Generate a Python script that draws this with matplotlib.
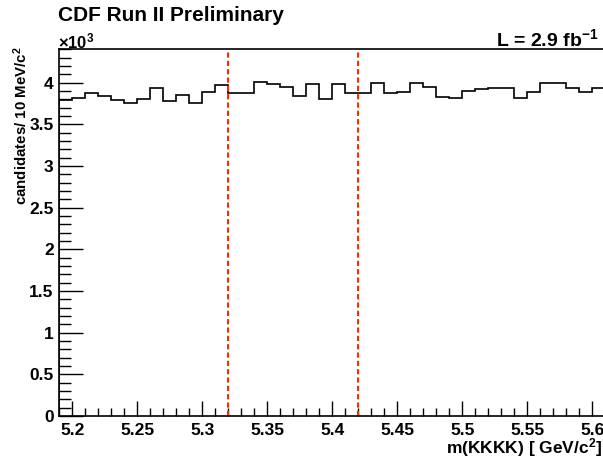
import numpy as np
import matplotlib
matplotlib.use('Agg')
import matplotlib.pyplot as plt
from matplotlib.ticker import MultipleLocator

plt.rcParams['font.family'] = ['Liberation Sans', 'DejaVu Sans']
plt.rcParams['font.weight'] = 'bold'
plt.rcParams['mathtext.fontset'] = 'custom'
plt.rcParams['mathtext.rm'] = 'Liberation Sans:bold'
plt.rcParams['mathtext.bf'] = 'Liberation Sans:bold'
plt.rcParams['mathtext.it'] = 'Liberation Sans:bold'
plt.rcParams['mathtext.default'] = 'bf'

# 10 MeV bins, 5.19 - 5.61 GeV, counts in units of 10^3
bin_lo = 5.19
bin_w = 0.01
counts = [3.79, 3.81, 3.87, 3.84, 3.79, 3.76, 3.80, 3.93, 3.78, 3.85,
          3.75, 3.89, 3.97, 3.87, 3.87, 4.01, 3.98, 3.95, 3.84, 3.98,
          3.80, 3.98, 3.87, 3.87, 4.00, 3.87, 3.89, 3.99, 3.95, 3.83,
          3.81, 3.90, 3.92, 3.93, 3.94, 3.82, 3.89, 4.00, 4.00, 3.93,
          3.89, 3.94]
edges = bin_lo + bin_w * np.arange(len(counts) + 1)
window = [5.32, 5.42]

fig = plt.figure(figsize=(6.03, 4.59), dpi=100)
ax = fig.add_axes([0.0983, 0.0937, 0.9055, 0.7996])

ax.stairs(counts, edges, color='black', linewidth=1.2)
for xv in window:
    ax.axvline(xv, color='#ff2a00', linestyle=(0, (2.5, 1.5)), linewidth=1.5)

ax.set_xlim(edges[0], edges[-1])
ax.set_ylim(0, 4.404)

ax.xaxis.set_minor_locator(MultipleLocator(0.01))
ax.yaxis.set_minor_locator(MultipleLocator(0.1))
ax.set_xticks([5.2, 5.25, 5.3, 5.35, 5.4, 5.45, 5.5, 5.55, 5.6])
ax.set_xticklabels(['5.2', '5.25', '5.3', '5.35', '5.4', '5.45', '5.5', '5.55', '5.6'])
ax.set_yticks([0, 0.5, 1, 1.5, 2, 2.5, 3, 3.5, 4])
ax.set_yticklabels(['0', '0.5', '1', '1.5', '2', '2.5', '3', '3.5', '4'])

ax.tick_params(axis='both', which='both', direction='in', labelsize=12.5)
ax.tick_params(axis='x', which='major', length=11, width=1, pad=5)
ax.tick_params(axis='x', which='minor', length=5.5, width=1)
ax.tick_params(axis='y', which='major', length=17, width=1, pad=4)
ax.tick_params(axis='y', which='minor', length=8.5, width=1)
for lab in ax.get_xticklabels() + ax.get_yticklabels():
    lab.set_fontweight('bold')
for s in ax.spines.values():
    s.set_linewidth(1.2)

fig.text(0.034, 0.898, r'candidates/ 10 MeV/c$^{2}$', fontsize=10.8,
         fontweight='bold', rotation=90, ha='center', va='top')
fig.text(0.998, 0.024, r'm(KKKK) [ GeV/c$^{2}$]', fontsize=12.5,
         fontweight='bold', ha='right', va='center')

fig.text(0.096, 0.967, 'CDF Run II Preliminary', fontsize=15, fontweight='bold',
         ha='left', va='center')
fig.text(0.992, 0.914, r'L = 2.9 fb$^{-1}$', fontsize=14, fontweight='bold',
         ha='right', va='center')
fig.text(0.097, 0.91, r'$\times$10$^{3}$', fontsize=12, fontweight='bold',
         ha='left', va='center')

fig.savefig('out.png', dpi=100)
